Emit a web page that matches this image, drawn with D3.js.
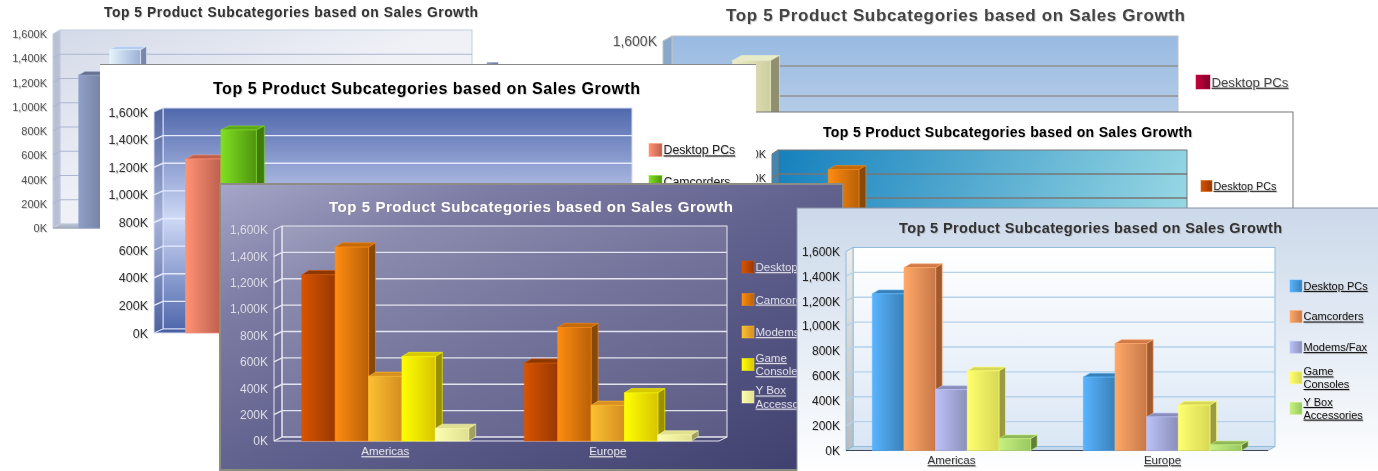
<!DOCTYPE html>
<html>
<head>
<meta charset="utf-8">
<title>Top 5 Product Subcategories</title>
<script src="https://cdn.jsdelivr.net/npm/d3@7"></script>
<style>
  body { margin: 0; background: #fff; }
  svg { display: block; filter: blur(0.35px); }
  text { font-family: "Liberation Sans", Arial, sans-serif; filter: drop-shadow(1px 1px 0 rgba(128,128,128,.35)); }
</style>
</head>
<body>
<svg id="chart" width="1378" height="471"></svg>
<script>
// values in thousands
var titleText = 'Top 5 Product Subcategories based on Sales Growth'
var regions = ['Americas', 'Europe']
var subcategories = ['Desktop PCs', 'Camcorders', 'Modems/Fax', 'Game Consoles', 'Y Box Accessories']
var legendLines = [['Desktop PCs'], ['Camcorders'], ['Modems/Fax'], ['Game', 'Consoles'], ['Y Box', 'Accessories']]
var americas = [1260, 1470, 490, 640, 95]
var europe = [590, 860, 270, 365, 45]
var tickValues = [0, 200, 400, 600, 800, 1000, 1200, 1400, 1600]

// bar colours per chart: [gradient start, gradient end, top, side]
var steelBars = [
  ['#8f9fc6', '#6c7898', '#666f90', '#565f80'], ['#e4f4fa', '#9cb0d6', '#b6ccf2', '#7a86ad'],
  ['#c4cee6', '#8a96b8', '#8a96b8', '#6c7698'], ['#d8e0f0', '#a8b4d0', '#a8b4d0', '#8290b0'],
  ['#eef2fa', '#c0cade', '#c0cade', '#98a2b8']]
var crimsonBars = [
  ['#c4003c', '#80002c', '#80002c', '#600020'], ['#ecedc8', '#cdcf9f', '#e6ebc8', '#909070'],
  ['#88a8cc', '#607c9c', '#607c9c', '#4c6480'], ['#d8a040', '#a87820', '#a87820', '#806018'],
  ['#80a070', '#607850', '#607850', '#485c3c']]
var salmonBars = [
  ['#ff9274', '#bd604e', '#c0604c', '#a04e3e'], ['#80e020', '#4f9410', '#5ea818', '#3f7a0c'],
  ['#f0d040', '#b89820', '#b89820', '#8c7418'], ['#70a0e0', '#4870a8', '#4870a8', '#385888'],
  ['#e080b0', '#a85880', '#a85880', '#844464']]
var orangeBars = [
  ['#d85400', '#983800', '#8c3800', '#7c3000'], ['#ff8c10', '#b86008', '#c46a08', '#884808'],
  ['#fcc030', '#d48e20', '#d89020', '#9a6a15'], ['#ffff00', '#d8c400', '#d8c800', '#999000'],
  ['#fdfdb0', '#e0e090', '#e0e090', '#a0a060']]
var freshBars = [
  ['#58b4ff', '#3a80b8', '#3a80b8', '#2f6a9a'], ['#ffa868', '#c87848', '#d07a48', '#a05a30'],
  ['#bcc2f8', '#8a8eb8', '#8a8eb8', '#6f7398'], ['#ffff70', '#d8d855', '#d8d858', '#9a9a40'],
  ['#c8f080', '#98c860', '#90b858', '#60803a']]

// layout of the six overlapping chart screenshots, back to front
// shownTicks, shownLegend and showRegions: only the texts that stay visible in the collage
var charts = [
  { id: 'a', x0: 53, x1: 465, y0: 228, y1: 34, dx: 7, dy: 4, bdx: 6, bdy: 3.5, bars: steelBars,
    titleX: 291, titleY: 12, titleW: 374, titleSize: 13.8, titleColor: '#333',
    tickSize: 11, tickColor: '#555', shownTicks: tickValues, labelColor: '#444', labelSize: 11, labelY: 240,
    wall: 'wa', side: '#b8c0d4', floor: '#b0b8cc', floorLine: '#8f97a8', grid: '#aab6d2', border: '#c4cce0',
    legendX: 487, legendTop: 68, legendStep: 31, swatch: 11, legendSize: 11, legendColor: '#333', shownLegend: 1 },
  { id: 'b', x0: 663, x1: 1169, y0: 281, y1: 41, dx: 9, dy: 5, bdx: 9, bdy: 5, bars: crimsonBars,
    titleX: 955.5, titleY: 15, titleW: 459, titleSize: 17, titleColor: '#444',
    tickSize: 14, tickColor: '#555', shownTicks: [1600], labelColor: '#444', labelSize: 13, labelY: 296,
    wall: 'wb', side: '#8aa8cc', floor: '#8aa8cc', grid: '#909090', border: '#c0c0c0',
    legendX: 1196, legendTop: 82, legendStep: 37, swatch: 14, legendSize: 13.2, legendColor: '#444', shownLegend: 1 },
  { id: 'd', x0: 772, x1: 1181, y0: 346, y1: 154, dx: 6, dy: 4, bdx: 7, bdy: 4, bars: orangeBars,
    panel: [560, 112, 733, 359], panelFill: '#fff', panelStroke: '#777',
    titleX: 1007.5, titleY: 132, titleW: 369, titleSize: 14, titleColor: '#000',
    tickSize: 11, tickColor: '#333', shownTicks: [1400, 1600], labelColor: '#333', labelSize: 11, labelY: 358,
    wall: 'wd', side: '#3d88b8', floor: '#3d88b8', grid: '#777', border: '#777',
    legendX: 1201, legendTop: 186, legendStep: 30, swatch: 11, legendSize: 10.8, legendColor: '#222', shownLegend: 1 },
  { id: 'c', x0: 154, x1: 623, xa: 156, xb: 628, y0: 333, y1: 112, dx: 9, dy: 4, bdx: 8, bdy: 4, bars: salmonBars,
    panel: [100, 65, 656, 290], panelFill: '#fff', panelTop: '#8a8a8a',
    titleX: 426.5, titleY: 88, titleW: 427, titleSize: 16, titleColor: '#000',
    tickSize: 12.5, tickColor: '#333', shownTicks: tickValues, labelColor: '#333', labelSize: 12, labelY: 347,
    wall: 'wc', side: 'url(#wc-side)', floor: '#4a60a4', grid: '#e6eaff', border: '#d8def4',
    legendX: 649, legendTop: 150, legendStep: 32, swatch: 13, legendSize: 12.3, legendColor: '#222', shownLegend: 2 },
  { id: 'e', x0: 274, x1: 719, y0: 441, y1: 230, dx: 8, dy: 4, bdx: 7, bdy: 4.3, bars: orangeBars, showRegions: true,
    panel: [220, 184, 623, 286], panelFill: 'url(#pe)', panelStroke: '#8c8c84', panelWidth: 2,
    titleX: 531, titleY: 207, titleW: 404, titleSize: 15, titleColor: '#fff',
    tickSize: 12, tickColor: '#dcdcec', shownTicks: tickValues, labelColor: '#e4e4f0', labelSize: 11.5, labelY: 453,
    wall: 'we', side: 'none', floor: 'none', grid: '#e4e4ee', border: '#e8e8f2',
    legendX: 742, legendTop: 267, legendStep: 32.5, swatch: 12, legendSize: 11.5, legendColor: '#dcdcec', shownLegend: 5 },
  { id: 'f', x0: 846, x1: 1268, y0: 450.5, y1: 251.5, dx: 7, dy: 4, bdx: 6.5, bdy: 3.8, bars: freshBars, showRegions: true,
    panel: [797, 208, 582, 264], panelFill: 'url(#pf)', panelStroke: '#8a92a4',
    titleX: 1090.5, titleY: 228, titleW: 383, titleSize: 14.5, titleColor: '#333',
    tickSize: 12, tickColor: '#222', shownTicks: tickValues, labelColor: '#333', labelSize: 11.5, labelY: 462,
    wall: 'wf', side: 'url(#wf-side)', floor: '#c4d8ea', floorLine: '#3c4658', grid: '#b5d2ea', border: '#8fbcdc',
    legendX: 1290, legendTop: 286, legendStep: 30.6, swatch: 12, legendSize: 11, legendColor: '#111', shownLegend: 5 }
]

var svg = d3.select('#chart')
var defs = svg.append('defs')

function gradient (id, x1, y1, x2, y2, stops) {
  var g = defs.append('linearGradient').attr('id', id)
    .attr('x1', x1).attr('y1', y1).attr('x2', x2).attr('y2', y2)
  stops.forEach(function (s) {
    g.append('stop').attr('offset', s[0]).attr('stop-color', s[1]).attr('stop-opacity', s[2] === undefined ? 1 : s[2])
  })
}

// panel and wall fills
gradient('wa', 0, 0, 1, 1, [[0, '#d4dae8'], [0.45, '#eef0f6'], [1, '#fafafc']])
gradient('wb', 0, 0, 0, 1, [[0, '#98bae2'], [0.5, '#c4d6ea'], [1, '#e4ecf4']])
gradient('wc', 0, 0, 0, 1, [[0, '#5068ac'], [0.5, '#ced8f6'], [1, '#5068ac']])
gradient('wc-side', 0, 0, 0, 1, [[0, '#50649f'], [0.5, '#a6b2d8'], [1, '#4e62a0']])
gradient('wd', 0, 0, 1, 0.2, [[0, '#1580bd'], [1, '#95d6e3']])
gradient('we', 0, 0, 1, 1, [[0, '#ffffff', 0.12], [1, '#ffffff', 0.1]])
gradient('wf', 0, 0, 0, 1, [[0, '#ffffff'], [1, '#dbe7f5']])
gradient('wf-side', 0, 0, 0, 1, [[0, '#ececec'], [1, '#b8bcc0']])
gradient('pe', 0, 0, 1, 1, [[0, '#a6a6c8'], [0.23, '#7c7ca4'], [0.5, '#62628f'], [1, '#3e3e6e']])
gradient('pf', 0, 0, 0, 1, [[0, '#ccd9ea'], [0.85, '#f6f9fc'], [1, '#ffffff']])

function drawChart (c) {
  var g = svg.append('g').attr('class', 'chart-' + c.id)
  var values = [americas, europe]

  if (c.panel) {
    g.append('rect').attr('x', c.panel[0]).attr('y', c.panel[1]).attr('width', c.panel[2]).attr('height', c.panel[3])
      .attr('fill', c.panelFill).attr('stroke', c.panelStroke || 'none').attr('stroke-width', c.panelWidth || 1)
    if (c.panelTop) {
      g.append('line').attr('x1', c.panel[0]).attr('x2', c.panel[0] + c.panel[2])
        .attr('y1', c.panel[1] - 0.5).attr('y2', c.panel[1] - 0.5).attr('stroke', c.panelTop)
    }
  }

  g.append('text').attr('x', c.titleX).attr('y', c.titleY).attr('dy', '.35em')
    .attr('text-anchor', 'middle').attr('font-weight', 'bold').attr('font-size', c.titleSize)
    .attr('textLength', c.titleW).attr('lengthAdjust', 'spacing').attr('fill', c.titleColor).text(titleText)

  var y = d3.scaleLinear().domain([0, 1600]).range([c.y0, c.y1])
  var x0 = d3.scaleBand().domain(regions).range([c.xa || c.x0, c.xb || c.x1])
  var x1 = d3.scaleBand().domain(subcategories).range([x0.bandwidth() * 0.125, x0.bandwidth() * 0.875])

  // back wall, side wall, floor
  g.append('rect').attr('x', c.x0 + c.dx).attr('y', y(1600) - c.dy)
    .attr('width', c.x1 - c.x0).attr('height', y(0) - y(1600))
    .attr('fill', 'url(#' + c.wall + ')').attr('stroke', c.border)
  g.append('path')
    .attr('d', d3.line()([[c.x0, y(1600)], [c.x0 + c.dx, y(1600) - c.dy], [c.x0 + c.dx, y(0) - c.dy], [c.x0, y(0)]]) + 'Z')
    .attr('fill', c.side).attr('stroke', c.border)
  g.append('path')
    .attr('d', d3.line()([[c.x0, y(0)], [c.x0 + c.dx, y(0) - c.dy], [c.x1 + c.dx, y(0) - c.dy], [c.x1, y(0)]]) + 'Z')
    .attr('fill', c.floor).attr('stroke', c.border)
  if (c.floorLine) {
    g.append('line').attr('x1', c.x0).attr('x2', c.x1).attr('y1', y(0)).attr('y2', y(0)).attr('stroke', c.floorLine)
  }

  g.selectAll('.grid').data(tickValues.slice(1, -1)).enter().append('path').attr('class', 'grid')
    .attr('d', function (d) {
      return d3.line()([[c.x0, y(d)], [c.x0 + c.dx, y(d) - c.dy], [c.x1 + c.dx, y(d) - c.dy]])
    })
    .attr('fill', 'none').attr('stroke', c.grid).attr('stroke-width', c.id === 'a' ? 1 : 1.4)

  // tick labels
  var yAxis = d3.axisLeft(y).tickValues(c.shownTicks).tickSize(0).tickPadding(6)
    .tickFormat(function (d) { return d3.format(',')(d) + 'K' })
  var yg = g.append('g').attr('transform', 'translate(' + c.x0 + ',0)').call(yAxis)
  yg.select('.domain').remove()
  yg.selectAll('text').attr('font-size', c.tickSize).attr('fill', c.tickColor)
    .style('font-family', '"Liberation Sans", Arial, sans-serif')

  // region labels
  if (c.showRegions) {
    var xAxis = d3.axisBottom(x0).tickSize(0).tickPadding(0)
    var xg = g.append('g').attr('transform', 'translate(0,' + (c.labelY - 6) + ')').call(xAxis)
    xg.select('.domain').remove()
    xg.selectAll('text').attr('font-size', c.labelSize).attr('fill', c.labelColor)
      .attr('text-decoration', 'underline')
      .style('font-family', '"Liberation Sans", Arial, sans-serif')
  }

  // bar gradients
  subcategories.forEach(function (s, i) {
    gradient(c.id + '-bar' + i, 0, 0, 1, 0, [[0, c.bars[i][0]], [1, c.bars[i][1]]])
  })

  // bars, left to right so each one hides the side of the previous one
  regions.forEach(function (r, ri) {
    var bars = g.append('g').attr('transform', 'translate(' + x0(r) + ',0)')
    var w = x1.bandwidth()
    values[ri].forEach(function (v, i) {
      var left = x1(subcategories[i])
      var top = y(v)
      var col = c.bars[i]
      bars.append('path')
        .attr('d', d3.line()([[left, top], [left + c.bdx, top - c.bdy], [left + w + c.bdx, top - c.bdy], [left + w, top]]) + 'Z')
        .attr('fill', col[2]).attr('stroke', col[0]).attr('stroke-opacity', 0.6)
      bars.append('path')
        .attr('d', d3.line()([[left + w, top], [left + w + c.bdx, top - c.bdy], [left + w + c.bdx, y(0) - c.bdy], [left + w, y(0)]]) + 'Z')
        .attr('fill', col[3]).attr('stroke', col[0]).attr('stroke-opacity', 0.6)
      bars.append('rect').attr('x', left).attr('y', top).attr('width', w).attr('height', y(0) - top)
        .attr('fill', 'url(#' + c.id + '-bar' + i + ')').attr('stroke', col[0]).attr('stroke-opacity', 0.6)
    })
  })

  // legend
  var items = g.selectAll('.legend').data(legendLines.slice(0, c.shownLegend)).enter().append('g').attr('class', 'legend')
    .attr('transform', function (d, i) { return 'translate(' + c.legendX + ',' + (c.legendTop + i * c.legendStep) + ')' })
  items.append('rect').attr('y', -c.swatch / 2).attr('width', c.swatch).attr('height', c.swatch)
    .attr('fill', function (d, i) { return 'url(#' + c.id + '-bar' + i + ')' })
    .attr('stroke', function (d, i) { return c.bars[i][0] }).attr('stroke-opacity', 0.5)
  items.each(function (lines) {
    var lh = c.legendSize * 1.15
    d3.select(this).selectAll('text').data(lines).enter().append('text')
      .attr('x', c.swatch + 1.5)
      .attr('y', function (d, i) { return (i - (lines.length - 1) / 2) * lh })
      .attr('dy', '.35em').attr('font-size', c.legendSize).attr('fill', c.legendColor)
      .attr('text-decoration', 'underline').text(function (d) { return d })
  })
}

charts.forEach(drawChart)
</script>
</body>
</html>
